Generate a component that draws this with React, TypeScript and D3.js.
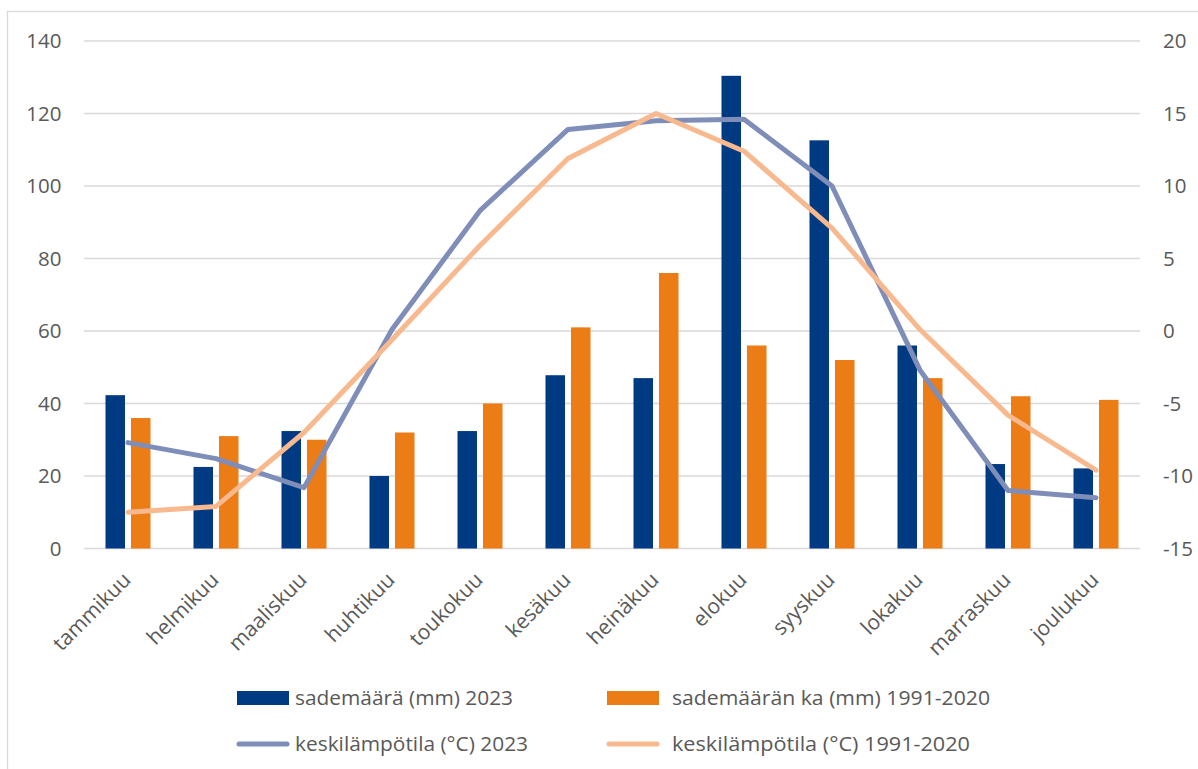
import React from "react";
import * as d3 from "d3";

const months = ["tammikuu","helmikuu","maaliskuu","huhtikuu","toukokuu","kesäkuu","heinäkuu","elokuu","syyskuu","lokakuu","marraskuu","joulukuu"];
const rain2023 = [42.3, 22.5, 32.4, 20, 32.4, 47.8, 47, 130.4, 112.6, 56, 23.3, 22.1];
const rainAvg = [36, 31, 30, 32, 40, 61, 76, 56, 52, 47, 42, 41];
const temp2023 = [-7.7, -8.8, -10.8, 0.1, 8.3, 13.9, 14.5, 14.6, 10.0, -2.7, -11.0, -11.5];
const tempAvg = [-12.5, -12.1, -7.0, -0.6, 5.9, 11.9, 15.0, 12.4, 7.1, 0.1, -5.8, -9.6];
const leftTicks = [0, 20, 40, 60, 80, 100, 120, 140];
const rightTicks = [-15, -10, -5, 0, 5, 10, 15, 20];
const legendLabels = ["sademäärä (mm) 2023", "sademäärän ka (mm) 1991-2020", "keskilämpötila (°C) 2023", "keskilämpötila (°C) 1991-2020"];

const C_BLUE = "#003A82";
const C_ORANGE = "#EC7C16";
const C_LBLUE = "#7F8DB9";
const C_LORANGE = "#F7B98D";
const TXT = "#595959";
const FONT = "'Open Sans', 'Noto Sans', sans-serif";

export default function App() {
  const W = 1198, H = 769;
  const x0 = 84, x1 = 1140, yTop = 41, yBot = 548.5;
  const x = d3.scaleBand<string>().domain(months).range([x0, x1]);
  const yL = d3.scaleLinear().domain([0, 140]).range([yBot, yTop]);
  const yR = d3.scaleLinear().domain([-15, 20]).range([yBot, yTop]);
  const bw = 19.5, gap = 6;
  const cx = (m: string) => (x(m) as number) + x.bandwidth() / 2;
  const line = (vals: number[]) =>
    d3.line<number>().x((_, i) => cx(months[i])).y((v) => yR(v))(vals) as string;

  const swX = [237, 607];
  const legendX = [295, 672];
  const legendY = [698, 744];
  const legendW = [218, 318, 233, 298];

  return (
    <svg width={W} height={H} style={{ position: "absolute", left: 0, top: 0, background: "#fff" }} fontFamily={FONT}>
      <rect x={7.5} y={11.5} width={1210} height={800} fill="#fff" stroke="#D9D9D9" strokeWidth={1.3} />
      {leftTicks.map((t) => (
        <g key={"g" + t}>
          <line x1={x0} x2={x1} y1={yL(t)} y2={yL(t)} stroke="#D9D9D9" strokeWidth={1.3} />
          <text x={61.5} y={yL(t)} dy="0.35em" textAnchor="end" fontSize={20.5} fill={TXT}>{t}</text>
        </g>
      ))}
      {rightTicks.map((t) => (
        <text key={"r" + t} x={1163} y={yR(t)} dy="0.35em" textAnchor="start" fontSize={20.5} fill={TXT}>{t}</text>
      ))}
      {months.map((m, i) => (
        <g key={m}>
          <rect x={cx(m) - gap / 2 - bw} y={yL(rain2023[i])} width={bw} height={yBot - yL(rain2023[i])} fill={C_BLUE} />
          <rect x={cx(m) + gap / 2} y={yL(rainAvg[i])} width={bw} height={yBot - yL(rainAvg[i])} fill={C_ORANGE} />
        </g>
      ))}
      <path d={line(temp2023)} fill="none" stroke={C_LBLUE} strokeWidth={5} strokeLinejoin="round" strokeLinecap="round" />
      <path d={line(tempAvg)} fill="none" stroke={C_LORANGE} strokeWidth={5} strokeLinejoin="round" strokeLinecap="round" />
      {months.map((m) => (
        <text key={"l" + m} transform={`translate(${cx(m) - 1},${576}) rotate(-45)`} textAnchor="end" dy="0.35em" fontSize={21} fill={TXT}>{m}</text>
      ))}
      {/* legend */}
      <rect x={swX[0]} y={legendY[0] - 7} width={52} height={14} fill={C_BLUE} />
      <rect x={swX[1]} y={legendY[0] - 7} width={52} height={14} fill={C_ORANGE} />
      <line x1={swX[0] + 2} x2={swX[0] + 50} y1={legendY[1]} y2={legendY[1]} stroke={C_LBLUE} strokeWidth={5} strokeLinecap="round" />
      <line x1={swX[1] + 2} x2={swX[1] + 50} y1={legendY[1]} y2={legendY[1]} stroke={C_LORANGE} strokeWidth={5} strokeLinecap="round" />
      {legendLabels.map((l, i) => (
        <text key={l} x={legendX[i % 2]} y={legendY[Math.floor(i / 2)]} dy="0.35em" fontSize={20} fill={TXT}
          textLength={legendW[i]} lengthAdjust="spacingAndGlyphs">{l}</text>
      ))}
    </svg>
  );
}
